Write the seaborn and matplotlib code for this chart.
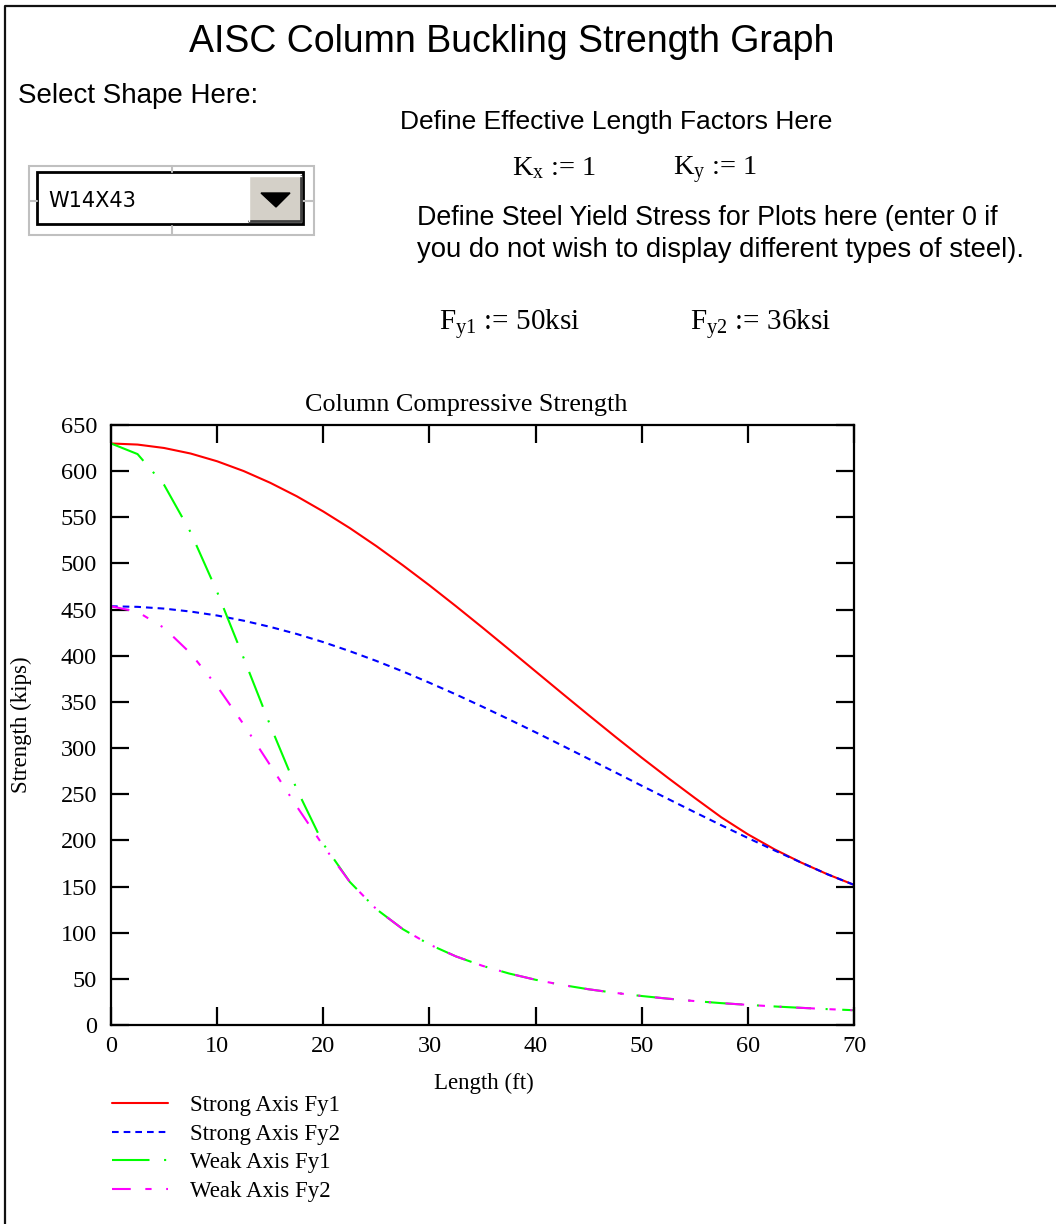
import numpy as np
import pandas as pd
import seaborn as sns
import matplotlib.pyplot as plt
from matplotlib.patches import Rectangle, Polygon

# data (strength in kips vs length in ft)
length_ft = [0, 2.5, 5, 7.5, 10, 12.5, 15, 17.5, 20, 22.5, 25, 27.5, 30, 32.5, 35,
             37.5, 40, 42.5, 45, 47.5, 50, 52.5, 55, 57.5, 60, 62.5, 65, 67.5, 70]
strong_fy1 = [630.0, 628.8, 625.1, 619.1, 610.7, 600.1, 587.4, 572.8, 556.3, 538.3,
              518.8, 498.0, 476.3, 453.7, 430.5, 406.9, 383.1, 359.3, 335.7, 312.4,
              289.6, 267.5, 246.0, 225.0, 206.6, 190.4, 176.1, 163.3, 151.8]
strong_fy2 = [453.6, 453.0, 451.1, 447.9, 443.6, 438.0, 431.3, 423.6, 414.8, 405.0,
              394.4, 383.0, 370.8, 358.1, 344.8, 331.1, 317.1, 302.8, 288.3, 273.8,
              259.2, 244.8, 230.5, 216.4, 202.6, 189.2, 176.1, 163.3, 151.8]
weak_fy1 = [630.0, 618.5, 585.2, 533.8, 469.2, 397.5, 324.6, 255.5, 196.2, 155.0,
            125.5, 103.8, 87.2, 74.3, 64.1, 55.8, 49.0, 43.4, 38.7, 34.8,
            31.4, 28.5, 25.9, 23.7, 21.8, 20.1, 18.6, 17.2, 16.0]
weak_fy2 = [453.6, 447.6, 430.2, 402.6, 366.9, 325.6, 281.4, 236.8, 194.1, 155.0,
            125.5, 103.8, 87.2, 74.3, 64.1, 55.8, 49.0, 43.4, 38.7, 34.8,
            31.4, 28.5, 25.9, 23.7, 21.8, 20.1, 18.6, 17.2, 16.0]

series_names = ["Strong Axis Fy1", "Strong Axis Fy2", "Weak Axis Fy1", "Weak Axis Fy2"]
series_colors = ["#ff0000", "#0000ff", "#00ff00", "#ff00ff"]
series_dashes = [None, (3.2, 2.4), (18, 7, 1, 7), (9, 7, 3, 7, 1, 7)]
x_ticks = [0, 10, 20, 30, 40, 50, 60, 70]
y_ticks = list(range(0, 651, 50))

sns.set_style("ticks")
plt.rcParams['font.family'] = ['Liberation Serif', 'DejaVu Serif']
plt.rcParams['mathtext.fontset'] = 'custom'
plt.rcParams['mathtext.rm'] = 'Liberation Serif'
plt.rcParams['mathtext.it'] = 'Liberation Serif'
for key in ['text.color', 'axes.labelcolor', 'xtick.color', 'ytick.color',
            'xtick.labelcolor', 'ytick.labelcolor']:
    plt.rcParams[key] = 'black'

fig = plt.figure(figsize=(10.56, 12.24), dpi=100)

# worksheet layer in pixel coordinates
bg = fig.add_axes([0, 0, 1, 1])
bg.set_xlim(0, 1056)
bg.set_ylim(1224, 0)
bg.axis('off')
bg.plot([5, 5, 1056], [1224, 6, 6], color='#111111', lw=1.6)

sans = 'Liberation Sans'
bg.text(512, 42, "AISC Column Buckling Strength Graph", family=sans, fontsize=27,
        ha='center', va='center')
bg.text(18, 96, "Select Shape Here:", family=sans, fontsize=20, ha='left', va='center')
bg.text(400, 122, "Define Effective Length Factors Here", family=sans, fontsize=19,
        ha='left', va='center')
bg.text(417, 218, "Define Steel Yield Stress for Plots here (enter 0 if", family=sans,
        fontsize=19.3, ha='left', va='center')
bg.text(417, 250, "you do not wish to display different types of steel).", family=sans,
        fontsize=19.8, ha='left', va='center')
bg.text(512, 175, r"K$_{\mathrm{x}}$ := 1", fontsize=20.5, ha='left', va='baseline')
bg.text(673, 175, r"K$_{\mathrm{y}}$ := 1", fontsize=20.5, ha='left', va='baseline')
bg.text(439, 330, r"F$_{\mathrm{y1}}$ := 50ksi", fontsize=21, ha='left', va='baseline')
bg.text(690, 330, r"F$_{\mathrm{y2}}$ := 36ksi", fontsize=21, ha='left', va='baseline')

# shape selector box
bg.add_patch(Rectangle((29, 166), 285, 69, fill=False, ec='#c0c0c0', lw=1.5))
for xs, ys in [([172, 172], [166, 172]), ([172, 172], [226, 235]),
               ([29, 37], [201, 201]), ([303, 314], [201, 201])]:
    bg.plot(xs, ys, color='#c0c0c0', lw=1.5)
bg.add_patch(Rectangle((37, 172), 266, 52, fc='white', ec='black', lw=2))
bg.add_patch(Rectangle((249, 176), 52, 45, fc='#d4d0c8', ec='none'))
bg.plot([249, 301, 301], [221, 221, 176], color='#404040', lw=2)
bg.plot([249, 249, 301], [221, 176, 176], color='white', lw=1)
bg.add_patch(Polygon([(261, 193), (290, 193), (276, 207)], closed=True, fc='black', ec='black'))
bg.text(48, 201, "W14X43", family='DejaVu Sans', fontsize=15, ha='left', va='center')

# plot
ax = fig.add_axes([111 / 1056, 1 - 1025 / 1224, 743 / 1056, 600 / 1224])
ax.set_facecolor('none')
for name, vals, color, dash in zip(series_names, [strong_fy1, strong_fy2, weak_fy1, weak_fy2],
                                   series_colors, series_dashes):
    sns.lineplot(x=length_ft, y=vals, ax=ax, color=color, label=name, linewidth=1.5)
    if dash is not None:
        ax.lines[-1].set_dashes(dash)

ax.set_xlim(0, 70)
ax.set_ylim(0, 650)
ax.set_xticks(x_ticks)
ax.set_yticks(y_ticks)
for sp in ax.spines.values():
    sp.set_visible(True)
    sp.set_linewidth(1.6)
    sp.set_color('black')
ax.tick_params(direction='in', length=13, width=1.6, top=True, right=True,
               labelsize=17.5, colors='black')
ax.tick_params(axis='x', pad=8)
ax.tick_params(axis='y', pad=10)

ax.text(0.478, 1.033, "Column Compressive Strength", transform=ax.transAxes,
        fontsize=18.8, ha='center', va='center')
ax.set_xlabel("Length (ft)", fontsize=16.5)
ax.set_ylabel("Strength (kips)", fontsize=16.5)
ax.xaxis.set_label_coords(0.502, -0.08)
ax.yaxis.set_label_coords(-0.106, 0.5)

ax.legend(loc='upper left', bbox_to_anchor=(112 / 1056, 1 - 1095 / 1224),
          bbox_transform=fig.transFigure, frameon=False, fontsize=16.5,
          handlelength=2.45, handletextpad=0.95, labelspacing=0.33,
          borderpad=0, borderaxespad=0)

fig.savefig("out.png", dpi=100)
